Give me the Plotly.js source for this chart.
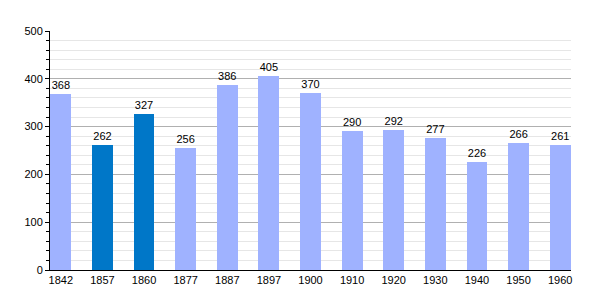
<!DOCTYPE html>
<html><head><meta charset="utf-8">
<script src="https://cdn.plot.ly/plotly-3.0.1.min.js"></script>
<style>body{margin:0;background:#fff}#c{width:600px;height:300px}</style>
</head><body><div id="c"></div>
<script>
const years = ["1842","1857","1860","1877","1887","1897","1900","1910","1920","1930","1940","1950","1960"];
const population = [368,262,327,256,386,405,370,290,292,277,226,266,261];
const highlighted = ["1857","1860"];
const lightBlue = "#9fb2ff";
const darkBlue = "#0077c8";
const idx = years.map((_, i) => i);
const trace = {
  type: "bar",
  x: idx,
  y: population,
  width: 0.5,
  marker: {color: years.map(y => highlighted.includes(y) ? darkBlue : lightBlue)},
  text: population.map(String),
  textposition: "outside",
  textfont: {family: "Liberation Sans, Arial, sans-serif", size: 11, color: "#000"},
  cliponaxis: false,
  hoverinfo: "none"
};
const layout = {
  width: 600, height: 300,
  margin: {l: 50, r: 29, t: 31, b: 30},
  paper_bgcolor: "#fff", plot_bgcolor: "#fff",
  showlegend: false,
  font: {family: "Liberation Sans, Arial, sans-serif", size: 11, color: "#000"},
  xaxis: {
    range: [-0.26, 12.26],
    tickvals: idx, ticktext: years,
    showgrid: false, zeroline: false,
    showline: true, linecolor: "#000", linewidth: 1,
    ticks: "", tickfont: {size: 11}
  },
  yaxis: {
    range: [0, 500], dtick: 100,
    showgrid: true, gridcolor: "#b0b0b0", gridwidth: 1,
    zeroline: false,
    showline: true, linecolor: "#000", linewidth: 1,
    ticks: "outside", ticklen: 4, tickcolor: "#000",
    tickfont: {size: 11},
    minor: {dtick: 20, showgrid: true, gridcolor: "#e6e6e6", ticks: "outside", ticklen: 3, tickcolor: "#000"}
  },
  bargap: 0
};
Plotly.newPlot("c", [trace], layout, {staticPlot: true, displayModeBar: false});
</script>
</body></html>
